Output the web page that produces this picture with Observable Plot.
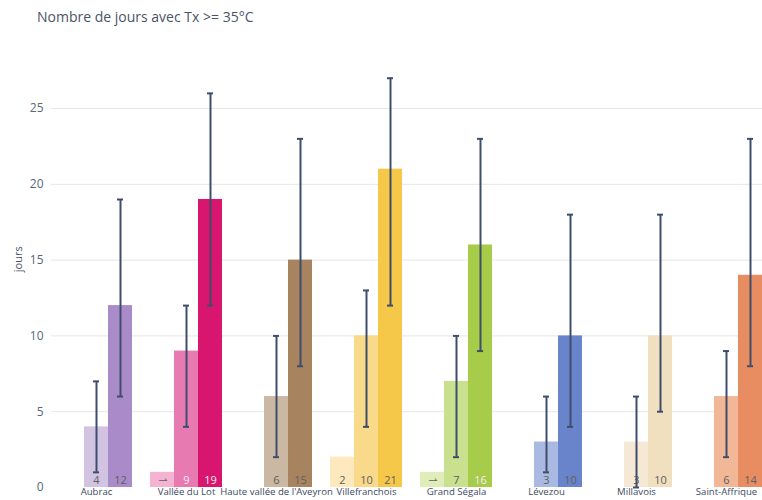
<!DOCTYPE html>
<html>
<head>
<meta charset="utf-8">
<script src="https://cdn.jsdelivr.net/npm/d3@7"></script>
<script src="https://cdn.jsdelivr.net/npm/@observablehq/plot@0.6"></script>
<style>
  html, body { margin: 0; padding: 0; background: #fff; overflow: hidden; width: 762px; height: 500px; }
  #title { height: 35px; line-height: 34px; padding-left: 37px; font-family: 'Open Sans', 'Liberation Sans', sans-serif; font-size: 14px; color: #4a5466; white-space: nowrap; }
  #chart { width: 762px; overflow: hidden; }
  #chart svg { display: block; max-width: none !important; }
</style>
</head>
<body>
<div id="title">Nombre de jours avec Tx &gt;= 35°C</div>
<div id="chart"></div>
<script>
const categories = ["Aubrac", "Vallée du Lot", "Haute vallée de l'Aveyron", "Villefranchois", "Grand Ségala", "Lévezou", "Millavois", "Saint-Affrique"];
const seriesKeys = ["ref", "proche", "lointain"];
const valRef = [0, 1, 0, 2, 1, 0, 0, 0];
const valMid = [4, 9, 6, 10, 7, 3, 3, 6];
const valFar = [12, 19, 15, 21, 16, 10, 10, 14];
const lowMid = [1, 4, 2, 4, 2, 1, 0, 2];
const highMid = [7, 12, 10, 13, 10, 6, 6, 9];
const lowFar = [6, 12, 8, 12, 9, 4, 5, 8];
const highFar = [19, 26, 23, 27, 23, 18, 18, 23];
const yTicks = [0, 5, 10, 15, 20, 25];
const colRef = ["#e6dcef", "#f3b3d1", "#e3d8cc", "#fde9bd", "#e0edb8", "#d3dcf0", "#f8f0e4", "#f8d7c4"];
const colMid = ["#d2c3e3", "#e87ab2", "#cbb8a3", "#f9d98a", "#c9e08e", "#a9b9e1", "#f5e9d6", "#f2b797"];
const colFar = ["#a98bc9", "#d8156f", "#a7835f", "#f6c84a", "#a6cc49", "#6a84cb", "#f0e0bf", "#e88d61"];
const lightLabels = ["Vallée du Lot|proche", "Vallée du Lot|lointain", "Grand Ségala|lointain"];

const rows = [];
categories.forEach((c, i) => {
  rows.push({cat: c, s: "ref", v: valRef[i], lo: null, hi: null, fill: colRef[i]});
  rows.push({cat: c, s: "proche", v: valMid[i], lo: lowMid[i], hi: highMid[i], fill: colMid[i]});
  rows.push({cat: c, s: "lointain", v: valFar[i], lo: lowFar[i], hi: highFar[i], fill: colFar[i]});
});
const labelled = rows.filter(d => d.v > 0);
const errs = rows.filter(d => d.hi != null);

const chart = Plot.plot({
  width: 773,
  height: 472,
  marginTop: 21.5,
  marginLeft: 49,
  marginRight: 0,
  marginBottom: 20,
  style: {fontFamily: "'Open Sans', 'Liberation Sans', sans-serif", background: "white", overflow: "visible"},
  fx: {domain: categories, padding: 0, label: null},
  x: {domain: seriesKeys, paddingInner: 0, paddingOuter: 0.375, axis: null},
  y: {domain: [0, 28.4], label: null},
  color: {type: "identity"},
  marks: [
    Plot.gridY(yTicks.filter(t => t > 0), {stroke: "#e6e6e6", strokeOpacity: 1, strokeWidth: 1}),
    Plot.axisY(yTicks, {tickSize: 0, tickPadding: 8, fontSize: 12, fill: "#5b6679", label: null}),
    Plot.text(["jours"], {frameAnchor: "left", dx: -33, rotate: -90, fontSize: 11, fill: "#4a5466", facetAnchor: "left"}),
    Plot.axisFx({anchor: "bottom", tickSize: 0, tickPadding: 1, fontSize: 9.6, fill: "#3c4a63", label: null}),
    Plot.barY(rows, {fx: "cat", x: "s", y: "v", fill: "fill"}),
    Plot.text(labelled, {
      fx: "cat", x: "s", y: 0, dy: -7,
      text: d => String(d.v),
      rotate: d => d.v < 2 ? 90 : 0,
      fill: d => lightLabels.includes(d.cat + "|" + d.s) ? "#fbeaf2" : "#5f5f5f",
      fontSize: 11
    }),
    Plot.ruleX(errs, {fx: "cat", x: "s", y1: "lo", y2: "hi", stroke: "#3e4d6c", strokeWidth: 2}),
    Plot.tickY(errs, {fx: "cat", x: "s", y: "hi", stroke: "#3e4d6c", strokeWidth: 2, insetLeft: 9, insetRight: 9}),
    Plot.tickY(errs, {fx: "cat", x: "s", y: "lo", stroke: "#3e4d6c", strokeWidth: 2, insetLeft: 9, insetRight: 9})
  ]
});
document.getElementById("chart").appendChild(chart);
</script>
</body>
</html>
